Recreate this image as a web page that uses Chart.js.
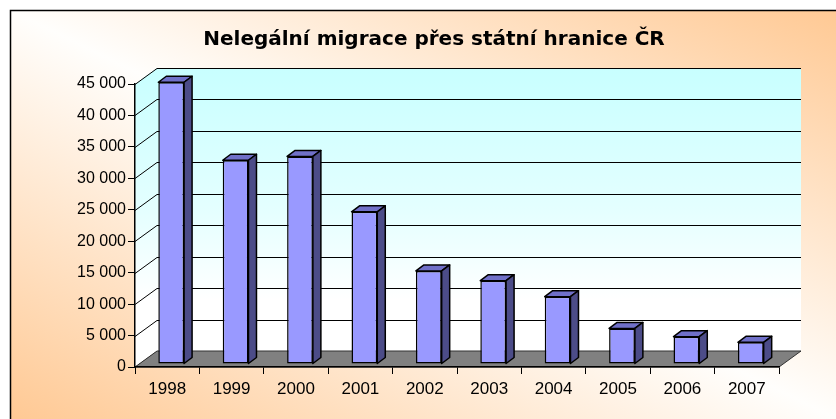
<!DOCTYPE html>
<html>
<head>
<meta charset="utf-8">
<script src="https://cdn.jsdelivr.net/npm/chart.js@4.4.1/dist/chart.umd.min.js"></script>
<style>
html,body{margin:0;padding:0;background:#fff;}
#wrap{width:836px;height:419px;position:relative;}
</style>
</head>
<body>
<div id="wrap"><canvas id="c" width="836" height="419"></canvas></div>
<script>
const titleText = "Nelegální migrace přes státní hranice ČR";
const categories = ["1998","1999","2000","2001","2002","2003","2004","2005","2006","2007"];
const migrants = [44800, 32400, 33000, 24200, 14800, 13250, 10700, 5650, 4350, 3450];
const yTicks = [0, 5000, 10000, 15000, 20000, 25000, 30000, 35000, 40000, 45000];

const DEPTH_X = 22, DEPTH_Y = -16;      // wall depth
const BAR_OFF_X = 4, BAR_OFF_Y = -3;    // bar plane offset
const BAR_DX = 8, BAR_DY = -6;          // bar depth

function fmt(v){ return String(v).replace(/\B(?=(\d{3})+(?!\d))/g, "\u00a0"); }

const threeD = {
  id: 'threeD',
  beforeDraw(chart){
    const ctx = chart.ctx, W = chart.width, H = chart.height;
    ctx.save();
    ctx.fillStyle = '#fff';
    ctx.fillRect(0,0,W,H);
    // outer chart area gradient (white band along TL-BR diagonal)
    const g = ctx.createLinearGradient(265, 545, 590, -112);
    g.addColorStop(0, '#FFC994');
    g.addColorStop(0.5, '#FFFEFC');
    g.addColorStop(1, '#FFC994');
    ctx.fillStyle = g;
    ctx.fillRect(10, 10, W, H);
    ctx.strokeStyle = '#000'; ctx.lineWidth = 1.5;
    ctx.beginPath(); ctx.moveTo(10.5, H+2); ctx.lineTo(10.5, 10.5); ctx.lineTo(W+2, 10.5); ctx.stroke();

    const xs = chart.scales.x, ys = chart.scales.y;
    const L = xs.left, R = xs.right;
    const T = ys.getPixelForValue(yTicks[yTicks.length-1]), B = ys.getPixelForValue(0);
    // walls
    const wg = ctx.createLinearGradient(0, T+DEPTH_Y, 0, B+DEPTH_Y);
    wg.addColorStop(0, '#C8FFFF');
    wg.addColorStop(0.5, '#E4FFFF');
    wg.addColorStop(0.82, '#FFFFFF');
    wg.addColorStop(1, '#FFFFFF');
    ctx.fillStyle = wg;
    ctx.fillRect(L+DEPTH_X, T+DEPTH_Y, R-L, B-T);
    ctx.beginPath();
    ctx.moveTo(L, T); ctx.lineTo(L+DEPTH_X, T+DEPTH_Y); ctx.lineTo(L+DEPTH_X, B+DEPTH_Y); ctx.lineTo(L, B); ctx.closePath();
    ctx.fill();
    // gridlines
    ctx.strokeStyle = '#000'; ctx.lineWidth = 1;
    yTicks.forEach(v => {
      const y = Math.round(ys.getPixelForValue(v)) + 0.5;
      ctx.beginPath();
      ctx.moveTo(L, y); ctx.lineTo(L+DEPTH_X, y+DEPTH_Y); ctx.lineTo(R+DEPTH_X, y+DEPTH_Y);
      ctx.stroke();
    });
    // floor
    ctx.fillStyle = '#808080';
    ctx.strokeStyle = '#333';
    ctx.beginPath();
    ctx.moveTo(L, B); ctx.lineTo(R, B); ctx.lineTo(R+DEPTH_X, B+DEPTH_Y); ctx.lineTo(L+DEPTH_X, B+DEPTH_Y); ctx.closePath();
    ctx.fill(); ctx.stroke();
    // title
    ctx.fillStyle = '#000';
    ctx.font = 'bold 20px "DejaVu Sans"';
    ctx.textAlign = 'center';
    ctx.textBaseline = 'middle';
    ctx.fillText(titleText, 434, 40);
    ctx.restore();
  },
  beforeDatasetsDraw(chart){
    chart.ctx.save();
    chart.ctx.translate(BAR_OFF_X, BAR_OFF_Y);
  },
  afterDatasetsDraw(chart){
    const ctx = chart.ctx;
    const meta = chart.getDatasetMeta(0);
    ctx.lineWidth = 1.5; ctx.strokeStyle = '#000'; ctx.lineJoin = 'round';
    meta.data.forEach(el => {
      const p = el.getProps(['x','y','base','width'], true);
      const l = p.x - p.width/2, r = p.x + p.width/2, t = p.y, b = p.base;
      ctx.fillStyle = '#7070C8';
      ctx.beginPath();
      ctx.moveTo(l, t); ctx.lineTo(l+BAR_DX, t+BAR_DY); ctx.lineTo(r+BAR_DX, t+BAR_DY); ctx.lineTo(r, t); ctx.closePath();
      ctx.fill(); ctx.stroke();
      ctx.fillStyle = '#4C4C88';
      ctx.beginPath();
      ctx.moveTo(r, t); ctx.lineTo(r+BAR_DX, t+BAR_DY); ctx.lineTo(r+BAR_DX, b+BAR_DY); ctx.lineTo(r, b); ctx.closePath();
      ctx.fill(); ctx.stroke();
    });
    ctx.restore();
  }
};

new Chart(document.getElementById('c'), {
  type: 'bar',
  data: {
    labels: categories,
    datasets: [{
      data: migrants,
      backgroundColor: '#9999FF',
      borderColor: '#000',
      borderWidth: 1.5,
      borderSkipped: false,
      categoryPercentage: 1,
      barPercentage: 0.4,
      clip: false
    }]
  },
  options: {
    responsive: false,
    animation: false,
    devicePixelRatio: 1,
    layout: { padding: { left: 10, right: 57, top: 84, bottom: 0 } },
    plugins: {
      legend: { display: false },
      tooltip: { enabled: false },
      title: { display: false }
    },
    scales: {
      x: {
        offset: true,
        grid: { display: true, drawOnChartArea: false, offset: true, color: '#000', tickLength: 7, tickColor: '#000' },
        border: { display: true, color: '#000', width: 1.5 },
        ticks: { color: '#000', font: { family: 'Liberation Sans', size: 17 }, padding: 5, maxRotation: 0 },
        afterFit(s){ s.height = 52; }
      },
      y: {
        min: 0, max: 45000,
        afterBuildTicks(s){ s.ticks = yTicks.map(v => ({ value: v })); },
        grid: { display: true, drawOnChartArea: false, color: '#000', tickLength: 7, tickColor: '#000' },
        border: { display: true, color: '#000', width: 1.5 },
        ticks: { color: '#000', font: { family: 'Liberation Sans', size: 16 }, padding: 2, callback: v => fmt(v) },
        afterFit(s){ s.width = 125; }
      }
    }
  },
  plugins: [threeD]
});
</script>
</body>
</html>
